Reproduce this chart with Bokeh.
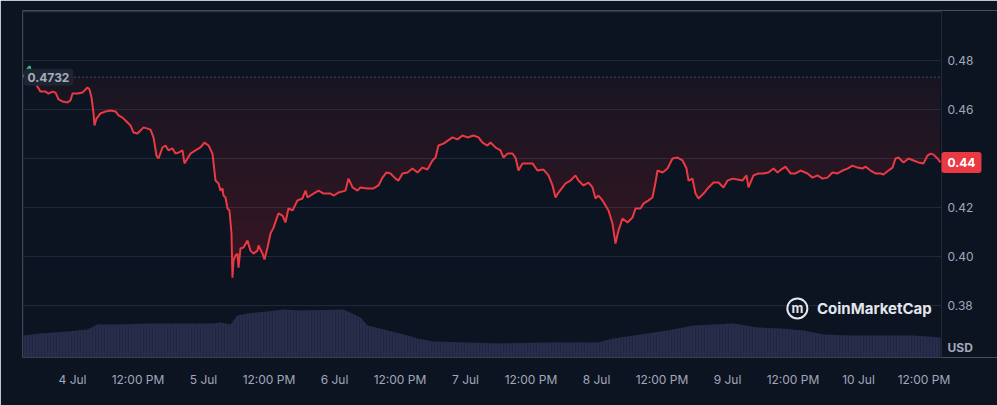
from bokeh.plotting import figure
from bokeh.models import Range1d, FixedTicker, Label, Span
from bokeh.embed import file_html
from bokeh.resources import INLINE
from bokeh.core.properties import value
import numpy as np

# hours since 4 Jul 00:00
hours = [-8.98, -8.4, -7.87, -7.3, -6.6,
         -5.86, -4.95, -4.40, -3.66, -3.11, -2.56, -1.83, -0.92, -0.37, 0.00, 0.92, 1.83, 2.75, 3.11, 3.48,
         3.85, 4.03, 4.40, 5.13, 6.05, 6.96, 7.88, 8.43, 9.16, 9.71, 10.63, 11.18, 11.91, 12.46, 13.01,
         13.74, 14.29, 14.84, 15.39, 15.76, 16.49, 17.04, 17.59, 18.32, 18.87, 19.42, 20.15, 20.52, 21.07,
         21.62, 22.53, 23.45, 24.18, 24.92, 25.65, 26.20, 26.75, 27.12, 27.48, 27.66, 28.03, 28.40, 28.76,
         29.13, 29.31, 29.50, 29.86, 30.23, 30.41, 30.78, 31.33, 32.06, 32.61, 33.16, 33.89, 34.08, 34.81,
         35.18, 35.73, 36.28, 36.83, 37.74, 38.47, 39.02, 39.57, 40.31, 41.22, 42.14, 42.69, 43.05, 44.15,
         45.07, 45.99, 47.27, 47.82, 48.73, 50.02, 50.57, 51.30, 52.21, 52.76, 54.05, 55.15, 56.06, 56.80,
         57.53, 58.26, 59.18, 59.73, 60.46, 61.38, 62.29, 63.21, 64.12, 65.04, 65.96, 66.51, 67.05, 67.97,
         69.62, 70.54, 71.45, 72.37, 73.47, 74.38, 75.12, 76.03, 76.58, 77.50, 78.41, 78.96, 79.70, 80.61,
         81.16, 81.71, 82.44, 83.36, 84.28, 85.19, 86.29, 87.21, 87.94, 88.49, 89.04, 89.77, 90.32, 91.24,
         92.15, 92.70, 93.62, 94.54, 95.27, 95.82, 96.37, 97.10, 97.65, 98.20, 98.93, 99.48, 100.03, 100.77,
         101.68, 102.60, 103.15, 104.06, 104.61, 105.53, 106.26, 106.81, 107.18, 108.10, 109.01, 109.93,
         110.85, 111.76, 112.49, 112.86, 113.59, 114.14, 114.69, 115.61, 116.53, 117.44, 118.36, 119.27,
         120.01, 120.92, 121.84, 122.75, 123.48, 123.85, 124.76, 125.68, 126.60, 127.51, 128.43, 129.16,
         130.08, 130.63, 131.55, 132.46, 133.38, 134.66, 135.58, 136.49, 137.41, 138.32, 139.24, 140.16,
         141.07, 141.99, 142.90, 143.82, 144.74, 145.29, 146.20, 147.12, 148.03, 148.58, 149.50, 150.23,
         150.78, 151.33, 152.25, 153.17, 154.08, 155.00, 155.91, 156.65, 157.20, 157.75, 158.48, 159.03]

price = [0.4732, 0.4760, 0.4776, 0.4732, 0.4700,
         0.4673, 0.4673, 0.4665, 0.4673, 0.4669, 0.4641, 0.4633, 0.4629, 0.4637, 0.4665, 0.4665, 0.4669, 0.4690, 0.4682, 0.4649,
         0.4584, 0.4535, 0.4563, 0.4584, 0.4592, 0.4596, 0.4592, 0.4576, 0.4567, 0.4555, 0.4535, 0.4506, 0.4502, 0.4514, 0.4527,
         0.4522, 0.4518, 0.4486, 0.4412, 0.4400, 0.4445, 0.4453, 0.4433, 0.4441, 0.4420, 0.4424, 0.4433, 0.4380, 0.4400,
         0.4420, 0.4433, 0.4445, 0.4465, 0.4453, 0.4420, 0.4310, 0.4298, 0.4269, 0.4278, 0.4249, 0.4241, 0.4196, 0.4188,
         0.4094, 0.3914, 0.3984, 0.4004, 0.4012, 0.3955, 0.4033, 0.4037, 0.4065, 0.4024, 0.4012, 0.4024, 0.4045, 0.4012,
         0.3988, 0.4037, 0.4094, 0.4118, 0.4176, 0.4167, 0.4139, 0.4196, 0.4188, 0.4229, 0.4237, 0.4269, 0.4241, 0.4257,
         0.4269, 0.4257, 0.4257, 0.4249, 0.4261, 0.4269, 0.4318, 0.4282, 0.4269, 0.4282, 0.4278, 0.4278, 0.4290, 0.4322,
         0.4343, 0.4339, 0.4318, 0.4310, 0.4339, 0.4343, 0.4359, 0.4343, 0.4363, 0.4355, 0.4392, 0.4404, 0.4453, 0.4461,
         0.4486, 0.4478, 0.4494, 0.4486, 0.4494, 0.4486, 0.4465, 0.4453, 0.4465, 0.4445, 0.4433, 0.4404, 0.4420, 0.4420,
         0.4404, 0.4351, 0.4380, 0.4380, 0.4380, 0.4351, 0.4355, 0.4331, 0.4290, 0.4241, 0.4261, 0.4282, 0.4298, 0.4310,
         0.4331, 0.4310, 0.4290, 0.4302, 0.4282, 0.4237, 0.4249, 0.4229, 0.4208, 0.4188, 0.4135, 0.4053, 0.4106, 0.4155,
         0.4139, 0.4159, 0.4196, 0.4196, 0.4216, 0.4229, 0.4241, 0.4302, 0.4351, 0.4343, 0.4359, 0.4400,
         0.4404, 0.4392, 0.4359, 0.4310, 0.4318, 0.4257, 0.4237, 0.4257, 0.4282, 0.4302, 0.4302, 0.4282,
         0.4310, 0.4318, 0.4314, 0.4310, 0.4331, 0.4282, 0.4331, 0.4339, 0.4339, 0.4343, 0.4359, 0.4343,
         0.4359, 0.4367, 0.4339, 0.4339, 0.4351, 0.4339, 0.4322, 0.4331, 0.4318, 0.4322, 0.4343, 0.4339,
         0.4351, 0.4359, 0.4371, 0.4363, 0.4359, 0.4367, 0.4351, 0.4339, 0.4339, 0.4335, 0.4351, 0.4363,
         0.4400, 0.4404, 0.4384, 0.4400, 0.4392, 0.4384, 0.4380, 0.4412, 0.4420, 0.4416, 0.4400, 0.4384]

vol_hours = [-8.98, -5.86, -0.92, 2.75, 4.58, 8.24, 14.29, 17.41, 21.07, 25.83, 27.12, 28.95, 30.23, 32.06,
             35.73, 38.66, 41.77, 49.65, 52.76, 54.05, 56.98, 60.09, 63.21, 66.14, 72.37, 78.41, 87.02,
             96.19, 99.12, 105.35, 109.01, 113.77, 117.44, 121.10, 125.50, 129.71, 133.93, 137.59, 141.99,
             151.15, 154.08, 159.03]
volume = [44, 48, 52, 56, 66, 66, 68, 68, 68, 68, 70, 66, 84, 88,
          92, 96, 94, 96, 80, 64, 56, 48, 38, 32, 30, 28, 30,
          30, 38, 48, 54, 64, 66, 68, 60, 58, 54, 46, 44,
          44, 44, 40]

x_ticks = [0, 12, 24, 36, 48, 60, 72, 84, 96, 108, 120, 132, 144, 156]
x_labels = ["4 Jul", "12:00 PM", "5 Jul", "12:00 PM", "6 Jul", "12:00 PM", "7 Jul", "12:00 PM",
            "8 Jul", "12:00 PM", "9 Jul", "12:00 PM", "10 Jul", "12:00 PM"]
y_ticks = [0.38, 0.40, 0.42, 0.44, 0.46, 0.48]
y_labels = ["0.38", "0.40", "0.42", "0.44", "0.46", "0.48"]
y_top_line = 0.50

BASE = 0.4732
LAST = "0.44"
UNIT = "USD"

BG = "#0d1421"
RED = "#ea3943"
GREEN = "#16c784"
TXT = "#a1a7bb"
GRID = "#222a3a"
EDGE = "#2a3142"
FONT = "Inter"

# chart data area (x) and the full frame including the right price-label strip
X0, X1 = -9.16, 159.21
XF = 169.47
Y0, Y1 = 0.3588, 0.5004

p = figure(width=997, height=405, output_backend="svg", toolbar_location=None,
           x_range=Range1d(X0, XF), y_range=Range1d(Y0, Y1),
           y_axis_location=None,
           min_border_left=22, min_border_right=0, min_border_top=10, min_border_bottom=48)
p.background_fill_color = BG
p.border_fill_color = BG
p.outline_line_color = None

p.extra_y_ranges = {"vol": Range1d(0, 694)}

# volume
p.varea(x=vol_hours, y1=0, y2=volume, y_range_name="vol", fill_color="#272d4b", fill_alpha=1.0,
        hatch_pattern="|", hatch_color="#20253f", hatch_scale=3, hatch_weight=1, hatch_alpha=0.8)

# grid lines and frame edges (limited to the chart area)
p.segment(x0=[X0] * len(y_ticks), y0=y_ticks, x1=[X1] * len(y_ticks), y1=y_ticks,
          line_color=GRID, line_width=1)
p.segment(x0=[X0], y0=[y_top_line], x1=[X1], y1=[y_top_line], line_color=EDGE, line_width=1.5)
p.segment(x0=[X0], y0=[Y0 + 0.0002], x1=[X1], y1=[Y0 + 0.0002], line_color=EDGE, line_width=1)
p.segment(x0=[X0 + 0.09, X1], y0=[Y0, Y0], x1=[X0 + 0.09, X1], y1=[y_top_line, y_top_line],
          line_color=GRID, line_width=1)

# gradient-like fill between line and baseline
pr = np.array(price)
p.varea(x=hours, y1=pr, y2=np.maximum(pr, BASE), fill_color=RED, fill_alpha=0.05)
for L in np.arange(0.470, 0.389, -0.005):
    p.varea(x=hours, y1=pr, y2=np.maximum(pr, min(L, BASE)), fill_color=RED, fill_alpha=0.013)

# baseline (dotted)
p.segment(x0=[X0], y0=[BASE], x1=[X1], y1=[BASE], line_color="#8a93a6", line_dash="1 3",
          line_width=1, line_alpha=0.9)

p.line(hours, price, line_color=RED, line_width=2)
p.line(hours[:4], price[:4], line_color=GREEN, line_width=2)

# x axis
p.xaxis.ticker = FixedTicker(ticks=x_ticks)
p.xaxis.major_label_overrides = {t: l for t, l in zip(x_ticks, x_labels)}
p.xaxis.axis_line_color = None
p.xaxis.major_tick_line_color = None
p.xaxis.minor_tick_line_color = None
p.xaxis.major_tick_out = 0
p.xaxis.major_label_standoff = 14
p.xaxis.major_label_text_color = TXT
p.xaxis.major_label_text_font = FONT
p.xaxis.major_label_text_font_size = "12px"

p.xgrid.grid_line_color = None
p.ygrid.grid_line_color = None

# price labels on the right
p.text(x=[X1] * len(y_ticks), y=y_ticks, text=y_labels, x_offset=6, text_align="left",
       text_baseline="middle", text_font=value(FONT), text_font_size="12px", text_color=TXT)

# labels
p.add_layout(Label(x=-8.98, y=BASE, text=f"{BASE:.4f}", text_align="left", text_baseline="middle",
                   text_font=FONT, text_font_size="12px", text_font_style="bold", text_color="#a6adbb",
                   background_fill_color="#1e2432", background_fill_alpha=1.0, padding=4, border_radius=4))

p.add_layout(Label(x=X1, y=price[-1], text=LAST, text_align="left", text_baseline="middle",
                   text_font=FONT, text_font_size="12px", text_font_style="bold", text_color="white",
                   background_fill_color=RED, background_fill_alpha=1.0, padding=6, border_radius=3))

p.add_layout(Label(x=X1, y=0.3629, x_offset=6, text=UNIT, text_align="left", text_baseline="middle",
                   text_font=FONT, text_font_size="12px", text_font_style="bold", text_color=TXT))

# watermark
p.scatter(x=[132.8], y=[0.3788], marker="circle", size=20, fill_alpha=0, line_color="#e3e6ec", line_width=2)
p.add_layout(Label(x=132.8, y=0.3788, text="m", text_align="center", text_baseline="middle",
                   text_font=FONT, text_font_size="13px", text_font_style="bold", text_color="#e3e6ec"))
p.add_layout(Label(x=136.4, y=0.3786, text="CoinMarketCap", text_align="left", text_baseline="middle",
                   text_font=FONT, text_font_size="15px", text_font_style="bold", text_color="#e3e6ec"))

open("out.html", "w").write(file_html(p, INLINE))
